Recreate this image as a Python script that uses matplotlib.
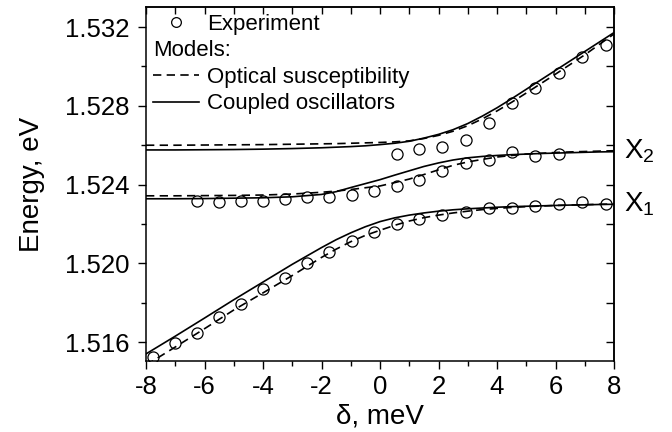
import matplotlib
matplotlib.use("Agg")
import matplotlib.pyplot as plt
from matplotlib.lines import Line2D
from matplotlib.ticker import MultipleLocator

plt.rcParams['font.family'] = ['Liberation Sans', 'DejaVu Sans']
plt.rcParams['mathtext.fontset'] = 'custom'
plt.rcParams['mathtext.rm'] = 'Liberation Sans'
plt.rcParams['mathtext.default'] = 'regular'

# ---- experiment ----
exp_low_x = [-7.75, -7.01, -6.25, -5.51, -4.76, -4.01, -3.26, -2.51, -1.74, -0.97, -0.19,
             0.59, 1.34, 2.12, 2.93, 3.72, 4.51, 5.31, 6.11, 6.91, 7.73]
exp_low_y = [1.51522, 1.51597, 1.51644, 1.51729, 1.51793, 1.51869, 1.51925, 1.52000, 1.52057,
             1.52113, 1.52159, 1.52198, 1.52227, 1.52245, 1.52262, 1.52282, 1.52282, 1.52291,
             1.52301, 1.52311, 1.52300]
exp_mid_x = [-6.25, -5.51, -4.76, -4.01, -3.26, -2.51, -1.74, -0.97, -0.19, 0.59, 1.34, 2.12,
             2.93, 3.72, 4.51, 5.31, 6.11]
exp_mid_y = [1.52316, 1.52310, 1.52318, 1.52318, 1.52327, 1.52335, 1.52337, 1.52348, 1.52367,
             1.52394, 1.52423, 1.52469, 1.52508, 1.52525, 1.52565, 1.52545, 1.52555]
exp_up_x = [0.59, 1.34, 2.12, 2.93, 3.72, 4.51, 5.31, 6.11, 6.91, 7.73]
exp_up_y = [1.52555, 1.52581, 1.52589, 1.52628, 1.52713, 1.52814, 1.52892, 1.52965, 1.53050, 1.53107]

# ---- models ----
model_x = [-8, -7, -6, -5, -4, -3, -2, -1.5, -1, -0.5, 0, 0.5, 1, 1.5, 2, 2.5, 3, 3.5, 4,
           4.5, 5, 5.5, 6, 6.5, 7, 7.5, 8]
co_low = [1.51540, 1.51630, 1.51722, 1.51815, 1.51905, 1.51995, 1.52080, 1.52120, 1.52155,
          1.52186, 1.52212, 1.52231, 1.52245, 1.52256, 1.52265, 1.52272, 1.52277, 1.52281,
          1.52285, 1.52288, 1.52290, 1.52292, 1.52294, 1.52296, 1.52297, 1.52299, 1.52300]
os_low = [1.51483, 1.51575, 1.51668, 1.51763, 1.51850, 1.51938, 1.52030, 1.52072, 1.52110,
          1.52142, 1.52168, 1.52193, 1.52215, 1.52232, 1.52245, 1.52256, 1.52265, 1.52273,
          1.52279, 1.52284, 1.52288, 1.52291, 1.52294, 1.52296, 1.52298, 1.52300, 1.52301]
co_mid = [1.52328, 1.52328, 1.52329, 1.52331, 1.52333, 1.52338, 1.52350, 1.52364, 1.52385,
          1.52405, 1.52425, 1.52448, 1.52470, 1.52492, 1.52510, 1.52525, 1.52536, 1.52543,
          1.52548, 1.52552, 1.52555, 1.52558, 1.52560, 1.52562, 1.52564, 1.52566, 1.52567]
os_mid = [1.52343, 1.52343, 1.52344, 1.52345, 1.52347, 1.52352, 1.52361, 1.52367, 1.52375,
          1.52384, 1.52393, 1.52410, 1.52428, 1.52451, 1.52475, 1.52498, 1.52515, 1.52528,
          1.52540, 1.52548, 1.52555, 1.52559, 1.52563, 1.52566, 1.52568, 1.52570, 1.52572]
co_up = [1.52576, 1.52576, 1.52577, 1.52578, 1.52580, 1.52583, 1.52587, 1.52590, 1.52593,
         1.52597, 1.52603, 1.52610, 1.52620, 1.52636, 1.52655, 1.52679, 1.52710, 1.52748,
         1.52790, 1.52836, 1.52884, 1.52932, 1.52980, 1.53028, 1.53076, 1.53124, 1.53172]
os_up = [1.52600, 1.52600, 1.52601, 1.52602, 1.52603, 1.52605, 1.52607, 1.52608, 1.52610,
         1.52612, 1.52614, 1.52617, 1.52622, 1.52634, 1.52650, 1.52671, 1.52699, 1.52734,
         1.52774, 1.52818, 1.52865, 1.52913, 1.52961, 1.53010, 1.53059, 1.53112, 1.53165]

x_ticks = [-8, -6, -4, -2, 0, 2, 4, 6, 8]
y_ticks = [1.516, 1.520, 1.524, 1.528, 1.532]
exciton_labels = [('X$_1$', 1.5230), ('X$_2$', 1.5257)]

fig = plt.figure(figsize=(6.72, 4.32), dpi=100)
ax = fig.add_axes([146/672, 1-361/432, 468/672, 354/432])

dash = (0, (5.0, 3.2))
lw = 1.2
for yv in (os_low, os_mid, os_up):
    ax.plot(model_x, yv, color='black', lw=lw, linestyle=dash)
for yv in (co_low, co_mid, co_up):
    ax.plot(model_x, yv, color='black', lw=lw, linestyle='-')
for xs, ys in ((exp_low_x, exp_low_y), (exp_mid_x, exp_mid_y), (exp_up_x, exp_up_y)):
    ax.plot(xs, ys, linestyle='none', marker='o', markersize=8, markerfacecolor='none',
            markeredgecolor='black', markeredgewidth=0.9)

ax.set_xlim(-8, 8)
ax.set_ylim(1.51504, 1.53302)
ax.set_xticks(x_ticks)
ax.set_yticks(y_ticks)
ax.set_xticklabels([str(v) for v in x_ticks])
ax.set_yticklabels(['%.3f' % v for v in y_ticks])
ax.xaxis.set_minor_locator(MultipleLocator(1))
ax.yaxis.set_minor_locator(MultipleLocator(0.002))

for s in ax.spines.values():
    s.set_linewidth(1.1)
ax.tick_params(which='both', direction='out', width=1.0, labelsize=18.5,
               top=False, right=False)
ax.tick_params(axis='y', pad=6)
ax.tick_params(axis='x', pad=4)
ax.tick_params(which='major', length=6)
ax.tick_params(which='minor', length=3.5)

# inward mirrored ticks on top/right
axt = ax.secondary_xaxis('top')
axt.set_xticks(x_ticks)
axt.xaxis.set_minor_locator(MultipleLocator(1))
axt.tick_params(which='both', direction='in', labeltop=False, width=1.0)
axt.tick_params(which='major', length=5)
axt.tick_params(which='minor', length=5)
axr = ax.secondary_yaxis('right')
axr.set_yticks(y_ticks)
axr.yaxis.set_minor_locator(MultipleLocator(0.002))
axr.tick_params(which='both', direction='in', labelright=False, width=1.0)
axr.tick_params(which='major', length=6)
axr.tick_params(which='minor', length=6)
for a in (axt, axr):
    for s in a.spines.values():
        s.set_linewidth(1.1)

ax.set_xlabel('δ, meV', fontsize=20, labelpad=3)
ax.set_ylabel('Energy, eV', fontsize=20, labelpad=14)

for lab, yv in exciton_labels:
    ax.text(8.35, yv, lab, fontsize=20, va='center', ha='left', clip_on=False)

handles = [
    Line2D([], [], linestyle='none', marker='o', markersize=7, markerfacecolor='none',
           markeredgecolor='black', markeredgewidth=0.9),
    Line2D([], [], linestyle='none'),
    Line2D([], [], color='black', lw=lw, linestyle=dash),
    Line2D([], [], color='black', lw=lw, linestyle='-'),
]
labels = ['Experiment', ' ', 'Optical susceptibility', 'Coupled oscillators']
leg = ax.legend(handles, labels, loc='upper left', frameon=False, fontsize=16,
                handlelength=2.1, handletextpad=0.35, borderaxespad=0.0, borderpad=0.3,
                labelspacing=0.25)
ax.text(0.015, 0.878, 'Models:', transform=ax.transAxes, fontsize=16, va='center', ha='left')

fig.savefig('out.png', dpi=100)
